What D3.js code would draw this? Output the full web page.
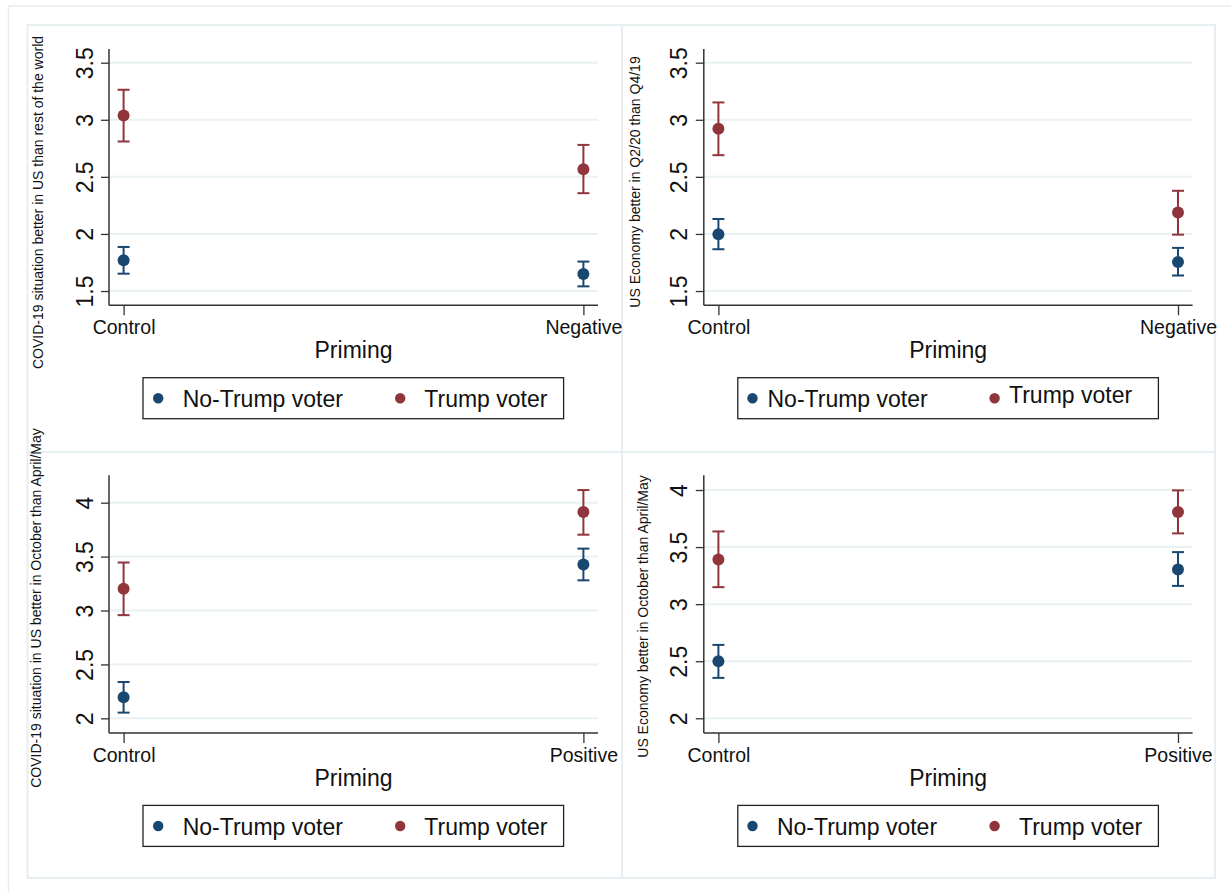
<!DOCTYPE html>
<html>
<head>
<meta charset="utf-8">
<script src="https://cdn.jsdelivr.net/npm/d3@7"></script>
<style>
  html, body { margin: 0; padding: 0; background: #fff; }
  svg { display: block; font-family: "Liberation Sans", Arial, Helvetica, sans-serif; }
</style>
</head>
<body>
<svg id="chart" width="1231" height="893"></svg>
<script>
// ---------------- DATA ----------------
const groups = ["No-Trump voter", "Trump voter"];
const groupColors = ["#1a476f", "#90353b"];

const xTitle = "Priming";

const yTitles = [
  "COVID-19 situation better in US than rest of the world",
  "US Economy better in Q2/20 than Q4/19",
  "COVID-19 situation in US better in October than April/May",
  "US Economy better in October than April/May"
];

const categoriesTop = ["Control", "Negative"];
const categoriesBottom = ["Control", "Positive"];

const yTicksTop = [1.5, 2, 2.5, 3, 3.5];
const yTicksBottom = [2, 2.5, 3, 3.5, 4];

const yDomains = [[1.375, 3.62], [1.375, 3.62], [1.864, 4.254], [1.871, 4.129]];

// Panel 1: COVID-19 vs rest of world
const p1NoTrumpMean = [1.769, 1.650];
const p1NoTrumpLo   = [1.652, 1.541];
const p1NoTrumpHi   = [1.886, 1.758];
const p1TrumpMean   = [3.038, 2.567];
const p1TrumpLo     = [2.810, 2.357];
const p1TrumpHi     = [3.263, 2.780];

// Panel 2: US Economy Q2/20 vs Q4/19
const p2NoTrumpMean = [1.997, 1.755];
const p2NoTrumpLo   = [1.866, 1.636];
const p2NoTrumpHi   = [2.131, 1.878];
const p2TrumpMean   = [2.921, 2.187];
const p2TrumpLo     = [2.690, 1.994];
const p2TrumpHi     = [3.152, 2.378];

// Panel 3: COVID-19 October vs April/May
const p3NoTrumpMean = [2.195, 3.426];
const p3NoTrumpLo   = [2.053, 3.280];
const p3NoTrumpHi   = [2.337, 3.574];
const p3TrumpMean   = [3.201, 3.913];
const p3TrumpLo     = [2.957, 3.703];
const p3TrumpHi     = [3.445, 4.117];

// Panel 4: US Economy October vs April/May
const p4NoTrumpMean = [2.500, 3.304];
const p4NoTrumpLo   = [2.354, 3.160];
const p4NoTrumpHi   = [2.643, 3.456];
const p4TrumpMean   = [3.392, 3.807];
const p4TrumpLo     = [3.149, 3.620];
const p4TrumpHi     = [3.637, 3.997];

// ---------------- LAYOUT ----------------
const layouts = [
  { x0: 109,   x1: 598,    y0: 49,    y1: 305.3, titleX: 37.5,  titleY: 202.5,
    leg: { b: 49.2, bt: 73.7, r: 291.2, rt: 315.3, rdy: 0 } },
  { x0: 703.8, x1: 1192.6, y0: 49,    y1: 305.3, titleX: 635,   titleY: 182,
    leg: { b: 48.7, bt: 63.7, r: 290.8, rt: 305.2, rdy: -4 } },
  { x0: 109,   x1: 598,    y0: 475.3, y1: 733,   titleX: 36,    titleY: 608,
    leg: { b: 49.2, bt: 73.7, r: 291.2, rt: 315.3, rdy: 0 } },
  { x0: 703.8, x1: 1192.6, y0: 475.3, y1: 733,   titleX: 642.6, titleY: 616.5,
    leg: { b: 48.7, bt: 73.1, r: 290.8, rt: 315.2, rdy: 0 } }
];

const panels = [
  { cats: categoriesTop, ticks: yTicksTop,
    series: [[p1NoTrumpMean, p1NoTrumpLo, p1NoTrumpHi], [p1TrumpMean, p1TrumpLo, p1TrumpHi]] },
  { cats: categoriesTop, ticks: yTicksTop,
    series: [[p2NoTrumpMean, p2NoTrumpLo, p2NoTrumpHi], [p2TrumpMean, p2TrumpLo, p2TrumpHi]] },
  { cats: categoriesBottom, ticks: yTicksBottom,
    series: [[p3NoTrumpMean, p3NoTrumpLo, p3NoTrumpHi], [p3TrumpMean, p3TrumpLo, p3TrumpHi]] },
  { cats: categoriesBottom, ticks: yTicksBottom,
    series: [[p4NoTrumpMean, p4NoTrumpLo, p4NoTrumpHi], [p4TrumpMean, p4TrumpLo, p4TrumpHi]] }
];

const svg = d3.select("#chart");
const frameColor = "#e6eef1";
const gridColor = "#eaf1f3";
const axisColor = "#333333";

// outer frame
svg.append("path").attr("d", "M8.5,893 L8.5,6 L1231,6")
  .attr("fill", "none").attr("stroke", frameColor).attr("stroke-width", 1.5);
// panel frames
svg.append("rect").attr("x", 27.5).attr("y", 25).attr("width", 1215 - 27.5).attr("height", 878 - 25)
  .attr("fill", "none").attr("stroke", frameColor).attr("stroke-width", 2);
svg.append("line").attr("x1", 622).attr("x2", 622).attr("y1", 25).attr("y2", 878)
  .attr("stroke", frameColor).attr("stroke-width", 2);
svg.append("line").attr("x1", 27.5).attr("x2", 1215).attr("y1", 452).attr("y2", 452)
  .attr("stroke", frameColor).attr("stroke-width", 2);

panels.forEach((p, i) => {
  const L = layouts[i];
  const g = svg.append("g");
  const y = d3.scaleLinear().domain(yDomains[i]).range([L.y1, L.y0]);
  const x = d3.scalePoint().domain(p.cats).range([L.x0 + 14.6, L.x1 - 14.6]);

  // gridlines
  g.append("g").selectAll("line").data(p.ticks).join("line")
    .attr("x1", L.x0).attr("x2", L.x1)
    .attr("y1", d => y(d)).attr("y2", d => y(d))
    .attr("stroke", gridColor).attr("stroke-width", 2);

  // y axis
  const ya = g.append("g").attr("transform", `translate(${L.x0},0)`)
    .call(d3.axisLeft(y).tickValues(p.ticks).tickSize(8).tickFormat(d3.format("")));
  ya.select(".domain").attr("stroke", axisColor).attr("stroke-width", 1.5)
    .attr("d", `M0,${L.y0}V${L.y1}`);
  ya.selectAll(".tick line").attr("stroke", axisColor).attr("stroke-width", 1.3);
  ya.selectAll(".tick text")
    .attr("x", null).attr("dy", null)
    .attr("transform", "translate(-16.5,0) rotate(-90)")
    .attr("text-anchor", "middle")
    .attr("font-size", 23).attr("fill", "#111");

  // x axis
  const xa = g.append("g").attr("transform", `translate(0,${L.y1})`)
    .call(d3.axisBottom(x).tickSize(10));
  xa.select(".domain").attr("stroke", axisColor).attr("stroke-width", 1.5)
    .attr("d", `M${L.x0},0H${L.x1}`);
  xa.selectAll(".tick line").attr("stroke", axisColor).attr("stroke-width", 1.3);
  xa.selectAll(".tick text").attr("y", 28.7).attr("dy", null)
    .attr("font-size", 19.5).attr("fill", "#111");

  // x title
  g.append("text").attr("x", (L.x0 + L.x1) / 2).attr("y", L.y1 + 52.5)
    .attr("text-anchor", "middle").attr("font-size", 23).attr("fill", "#111")
    .text(xTitle);

  // y title
  g.append("text")
    .attr("transform", `translate(${L.titleX},${L.titleY}) rotate(-90)`)
    .attr("text-anchor", "middle").attr("dominant-baseline", "central")
    .attr("font-size", 14).attr("fill", "#111")
    .text(yTitles[i]);

  // error bars + points
  p.series.forEach((s, si) => {
    const [mean, lo, hi] = s;
    const col = groupColors[si];
    const rows = p.cats.map((c, ci) => ({ c, m: mean[ci], lo: lo[ci], hi: hi[ci] }));
    const sg = g.append("g");
    sg.selectAll("line.v").data(rows).join("line").attr("class", "v")
      .attr("x1", d => x(d.c)).attr("x2", d => x(d.c))
      .attr("y1", d => y(d.lo)).attr("y2", d => y(d.hi))
      .attr("stroke", col).attr("stroke-width", 2);
    sg.selectAll("line.capT").data(rows).join("line").attr("class", "capT")
      .attr("x1", d => x(d.c) - 6).attr("x2", d => x(d.c) + 6)
      .attr("y1", d => y(d.hi)).attr("y2", d => y(d.hi))
      .attr("stroke", col).attr("stroke-width", 2);
    sg.selectAll("line.capB").data(rows).join("line").attr("class", "capB")
      .attr("x1", d => x(d.c) - 6).attr("x2", d => x(d.c) + 6)
      .attr("y1", d => y(d.lo)).attr("y2", d => y(d.lo))
      .attr("stroke", col).attr("stroke-width", 2);
    sg.selectAll("circle").data(rows).join("circle")
      .attr("cx", d => x(d.c)).attr("cy", d => y(d.m)).attr("r", 6)
      .attr("fill", col);
  });

  // legend
  const lg = g.append("g");
  lg.append("rect").attr("x", L.x0 + 34).attr("y", L.y1 + 72.4)
    .attr("width", 420.6).attr("height", 41)
    .attr("fill", "#fff").attr("stroke", "#222").attr("stroke-width", 1.3);
  const legItems = [
    { name: groups[0], col: groupColors[0], mx: L.leg.b, tx: L.leg.bt, dy: 0 },
    { name: groups[1], col: groupColors[1], mx: L.leg.r, tx: L.leg.rt, dy: L.leg.rdy }
  ];
  legItems.forEach(it => {
    lg.append("circle").attr("cx", L.x0 + it.mx).attr("cy", L.y1 + 93).attr("r", 5.2).attr("fill", it.col);
    lg.append("text").attr("x", L.x0 + it.tx).attr("y", L.y1 + 101.8 + it.dy)
      .attr("font-size", 23).attr("fill", "#111").text(it.name);
  });
});
</script>
</body>
</html>
